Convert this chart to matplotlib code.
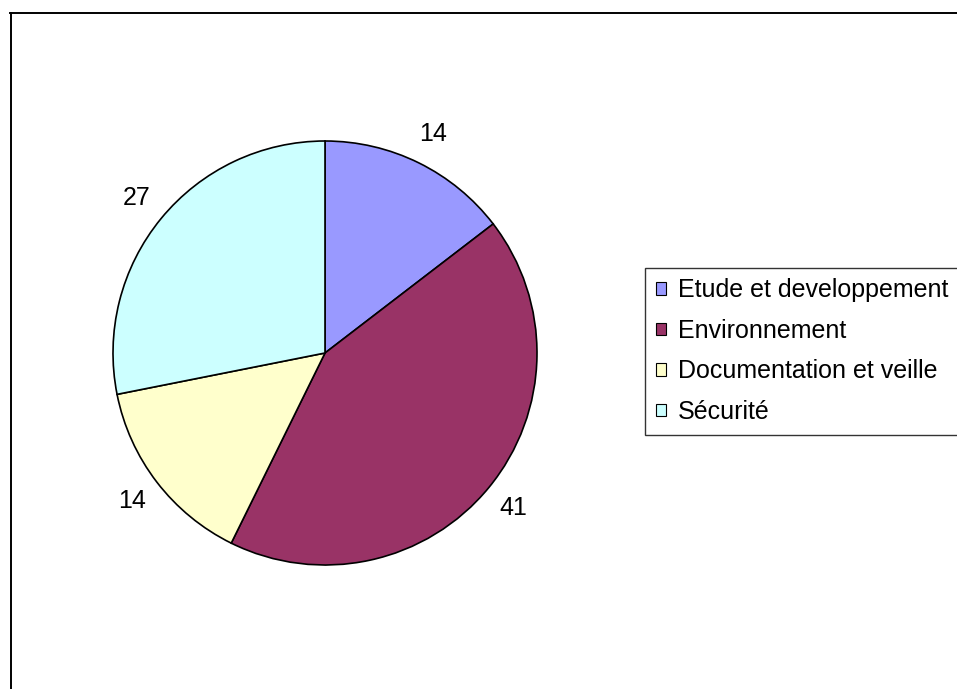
import matplotlib.pyplot as plt
from matplotlib.lines import Line2D
from matplotlib.patches import Patch

plt.rcParams['font.family'] = ['Liberation Sans', 'DejaVu Sans']

# Daten
categories = ['Etude et developpement', 'Environnement',
              'Documentation et veille', 'Sécurité']
values = [14, 41, 14, 27]
colors = ['#9999FF', '#993366', '#FFFFCC', '#CCFFFF']

W, H = 957, 689
fig = plt.figure(figsize=(W / 100, H / 100), dpi=100)

# Kreisdiagramm: Mitte (325, 353) px, Radius 212 px
cx, cy, r = 325, 353, 212
ax = fig.add_axes([(cx - r) / W, (H - cy - r) / H, 2 * r / W, 2 * r / H])
wedges, texts = ax.pie(values, labels=[str(v) for v in values], colors=colors,
                       startangle=90, counterclock=False, labeldistance=1.15,
                       wedgeprops={'edgecolor': 'black', 'linewidth': 1.2},
                       textprops={'fontsize': 18, 'color': 'black'})
for t in texts:
    t.set_ha('center')
    t.set_va('center')
ax.set_xlim(-1, 1)
ax.set_ylim(-1, 1)
ax.set_aspect('equal')
ax.axis('off')

# Rahmen (oben und links)
fig.add_artist(Line2D([10 / W, 1.0], [1 - 13 / H, 1 - 13 / H], color='black',
                      linewidth=1.4, transform=fig.transFigure))
fig.add_artist(Line2D([10.5 / W, 10.5 / W], [0, 1 - 13 / H], color='black',
                      linewidth=1.4, transform=fig.transFigure))

# Legende
handles = [Patch(facecolor=c, edgecolor='black', linewidth=0.8) for c in colors]
leg = fig.legend(handles, categories, loc='upper left',
                 bbox_to_anchor=(645 / W, 1 - 268 / H), fontsize=18,
                 frameon=True, fancybox=False, handlelength=0.4,
                 handleheight=0.4, handletextpad=0.5, labelspacing=0.66,
                 borderpad=0.42, borderaxespad=0)
leg.get_frame().set_edgecolor('black')
leg.get_frame().set_linewidth(1.0)

fig.savefig('out.png', dpi=100)
